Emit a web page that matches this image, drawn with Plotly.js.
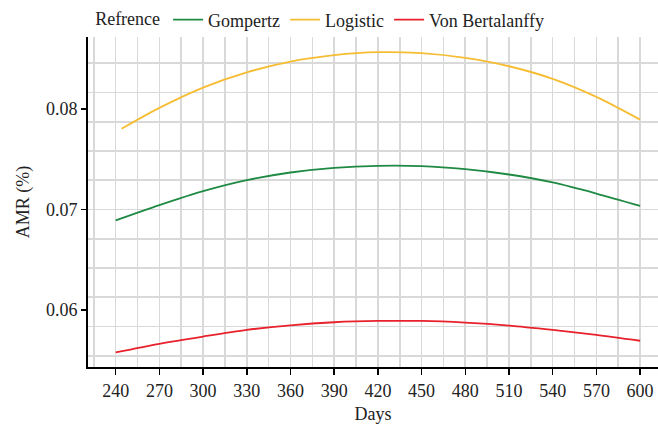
<!DOCTYPE html>
<html>
<head>
<meta charset="utf-8">
<script src="https://cdn.plot.ly/plotly-3.0.1.min.js"></script>
<style>html,body{margin:0;padding:0;background:#fff;}#chart{width:658px;height:425px;}</style>
</head>
<body>
<div id="chart"></div>
<script>
const days = [240, 270, 300, 330, 360, 390, 420, 450, 480, 510, 540, 570, 600];
const logisticDays = [244, 270, 300, 330, 360, 390, 420, 450, 480, 510, 540, 570, 600];
const gompertz = [0.06891, 0.07043, 0.07182, 0.07292, 0.07368, 0.07414, 0.07434, 0.07431, 0.07401, 0.07348, 0.07269, 0.07159, 0.07036];
const logistic = [0.07803, 0.08011, 0.08213, 0.08364, 0.08471, 0.08535, 0.08565, 0.08555, 0.08508, 0.08425, 0.08300, 0.08120, 0.07894];
const vonBertalanffy = [0.05578, 0.05664, 0.05736, 0.05802, 0.05848, 0.05878, 0.05891, 0.05891, 0.05874, 0.05845, 0.05802, 0.05753, 0.05694];
const seriesNames = ['Gompertz', 'Logistic', 'Von Bertalanffy'];
const seriesColors = ['#1f8a43', '#f6bd33', '#e8212b'];
const legendTitle = 'Refrence';
const xTitle = 'Days';
const yTitle = 'AMR (%)';

const fontFam = 'Liberation Serif, serif';
const gridColor = '#d9d9d9';
const yRange = [0.05433, 0.08716];

const traces = [
  {x: days, y: gompertz, name: seriesNames[0], type: 'scatter', mode: 'lines',
   line: {color: seriesColors[0], width: 1.8, shape: 'spline', smoothing: 0.8}},
  {x: logisticDays, y: logistic, name: seriesNames[1], type: 'scatter', mode: 'lines',
   line: {color: seriesColors[1], width: 1.8, shape: 'spline', smoothing: 0.8}},
  {x: days, y: vonBertalanffy, name: seriesNames[2], type: 'scatter', mode: 'lines',
   line: {color: seriesColors[2], width: 1.8, shape: 'spline', smoothing: 0.8}},
  {x: [], y: [], yaxis: 'y2', showlegend: false, hoverinfo: 'skip', type: 'scatter', mode: 'lines'}
];

const layout = {
  width: 658, height: 425,
  margin: {l: 88, r: 0, t: 37, b: 58},
  paper_bgcolor: '#fff', plot_bgcolor: '#fff',
  font: {family: fontFam, size: 18, color: '#1a1a1a'},
  showlegend: true,
  legend: {
    orientation: 'h', x: 0.009, xanchor: 'left', y: 1.052, yanchor: 'middle',
    title: {text: legendTitle, side: 'left', font: {family: fontFam, size: 18, color: '#222'}},
    font: {family: fontFam, size: 18, color: '#222'}, itemwidth: 30, tracegroupgap: 0,
    bgcolor: 'rgba(0,0,0,0)'
  },
  xaxis: {
    range: [221.0, 612.3], tick0: 240, dtick: 30,
    showgrid: true, gridcolor: gridColor, gridwidth: 1.6,
    minor: {dtick: 15, tick0: 240, showgrid: true, gridcolor: gridColor, gridwidth: 1.6, ticks: ''},
    ticks: 'outside', ticklen: 6, tickwidth: 1.5, tickcolor: '#000',
    showline: true, linecolor: '#000', linewidth: 2, zeroline: false,
    tickfont: {family: fontFam, size: 18, color: '#222'},
    title: {text: xTitle, font: {family: fontFam, size: 18, color: '#222'}, standoff: 8}
  },
  yaxis: {
    range: yRange, tick0: 0.06, dtick: 0.01, tickformat: '.2f',
    showgrid: false,
    ticks: 'outside', ticklen: 5, tickwidth: 1.5, tickcolor: '#000',
    showline: true, linecolor: '#000', linewidth: 2, zeroline: false,
    tickfont: {family: fontFam, size: 18, color: '#222'},
    title: {text: yTitle, font: {family: fontFam, size: 18, color: '#222'}, standoff: 12}
  },
  yaxis2: {
    overlaying: 'y', anchor: 'x', side: 'left', range: yRange,
    tick0: 0.07, dtick: 0.00291,
    showgrid: true, gridcolor: gridColor, gridwidth: 1.6,
    showticklabels: false, ticks: '', showline: false, zeroline: false
  }
};

Plotly.newPlot('chart', traces, layout, {displayModeBar: false, staticPlot: true});
</script>
</body>
</html>
